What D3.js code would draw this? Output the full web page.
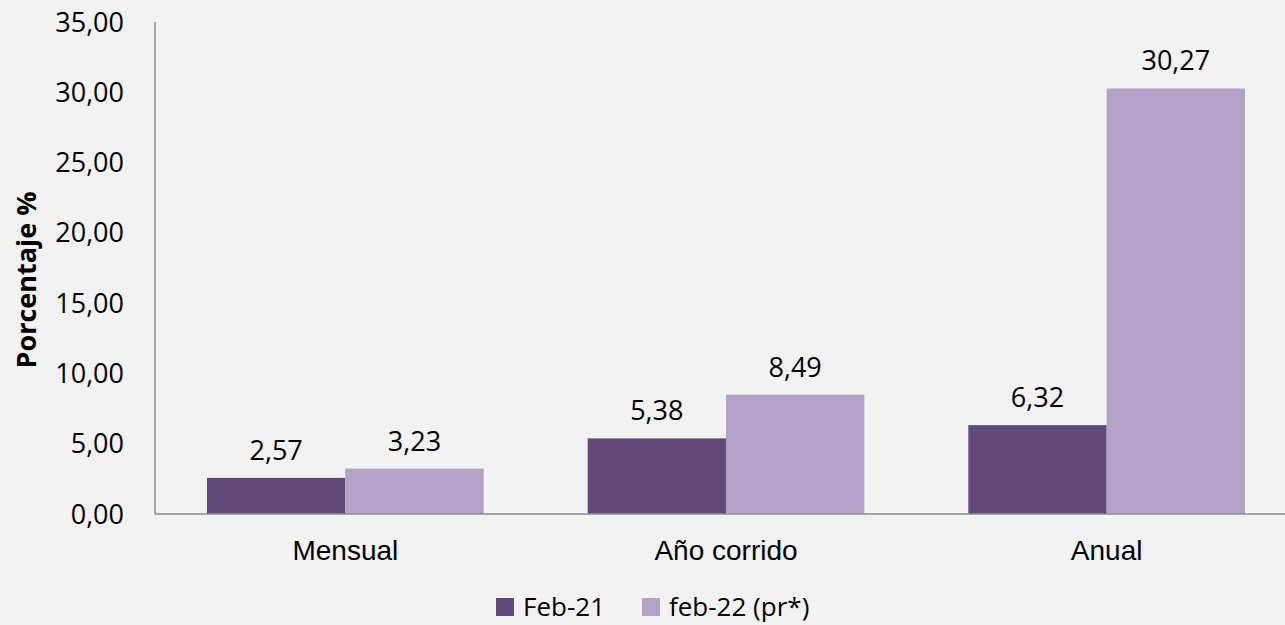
<!DOCTYPE html>
<html>
<head>
<meta charset="utf-8">
<script src="https://cdn.jsdelivr.net/npm/d3@7"></script>
<style>
  body { margin: 0; background: #f2f2f2; }
  svg { display: block; }
</style>
</head>
<body>
<svg></svg>
<script>
const width = 1285;
const height = 625;

const categories = ["Mensual", "Año corrido", "Anual"];
const seriesNames = ["Feb-21", "feb-22 (pr*)"];
const feb21 = [2.57, 5.38, 6.32];
const feb22 = [3.23, 8.49, 30.27];
const yTicks = [0, 5, 10, 15, 20, 25, 30, 35];
const colors = ["#604a7b", "#b3a2c7"];

const series = [feb21, feb22];
const rows = categories.map((c, i) => ({
  cat: c,
  vals: series.map((s, j) => ({ key: seriesNames[j], idx: j, value: s[i] }))
}));

const fmt = v => d3.format(".2f")(v).replace(".", ",");

const svg = d3.select("svg")
  .attr("width", width)
  .attr("height", height)
  .style("background", "#f2f2f2");

const x = d3.scaleBand()
  .domain(categories)
  .range([155, 1297])
  .padding(0);

const x1 = d3.scaleBand()
  .domain(seriesNames)
  .range([0, x.bandwidth()])
  .paddingInner(0)
  .paddingOuter(0.376);

const y = d3.scaleLinear()
  .domain([0, 35])
  .range([514, 22]);

// y tick labels
svg.append("g")
  .selectAll("text")
  .data(yTicks)
  .enter().append("text")
  .attr("x", 124)
  .attr("y", d => y(d) + 9.5)
  .attr("text-anchor", "end")
  .style("font-family", "'Open Sans', sans-serif")
  .style("font-size", "27px")
  .style("fill", "#000")
  .text(d => fmt(d));

// bars
const group = svg.append("g")
  .selectAll("g")
  .data(rows)
  .enter().append("g")
  .attr("transform", d => `translate(${x(d.cat)},0)`);

group.selectAll("rect")
  .data(d => d.vals)
  .enter().append("rect")
  .attr("x", d => x1(d.key))
  .attr("y", d => y(d.value))
  .attr("width", x1.bandwidth())
  .attr("height", d => y(0) - y(d.value))
  .attr("fill", d => colors[d.idx]);

group.selectAll("text")
  .data(d => d.vals)
  .enter().append("text")
  .attr("x", d => x1(d.key) + x1.bandwidth() / 2)
  .attr("y", d => y(d.value) - 18)
  .attr("text-anchor", "middle")
  .style("font-family", "'Open Sans', sans-serif")
  .style("font-size", "27px")
  .style("fill", "#000")
  .text(d => fmt(d.value));

// axes lines
svg.append("line")
  .attr("x1", 155).attr("x2", 155)
  .attr("y1", y(35)).attr("y2", y(0))
  .attr("stroke", "#8c8c8c").attr("stroke-width", 1.5);
svg.append("line")
  .attr("x1", 155).attr("x2", width)
  .attr("y1", y(0)).attr("y2", y(0))
  .attr("stroke", "#8c8c8c").attr("stroke-width", 1.5);

// category labels
svg.append("g")
  .selectAll("text")
  .data(categories)
  .enter().append("text")
  .attr("x", d => x(d) + x.bandwidth() / 2)
  .attr("y", 560)
  .attr("text-anchor", "middle")
  .style("font-family", "'Liberation Sans', Arial, sans-serif")
  .style("font-size", "28px")
  .style("fill", "#000")
  .text(d => d);

// y title
svg.append("text")
  .attr("transform", "translate(36,280) rotate(-90)")
  .attr("text-anchor", "middle")
  .style("font-family", "'Open Sans', sans-serif")
  .style("font-weight", "bold")
  .style("font-size", "27px")
  .style("fill", "#000")
  .text("Porcentaje %");

// legend
const legendX = [496, 642];
const legend = svg.append("g")
  .selectAll("g")
  .data(seriesNames)
  .enter().append("g")
  .attr("transform", (d, i) => `translate(${legendX[i]},598)`);

legend.append("rect")
  .attr("width", 18)
  .attr("height", 18)
  .attr("fill", (d, i) => colors[i]);

legend.append("text")
  .attr("x", 27)
  .attr("y", 18)
  .style("font-family", "'Open Sans', sans-serif")
  .style("font-size", "26px")
  .style("fill", "#000")
  .text(d => d);
</script>
</body>
</html>
